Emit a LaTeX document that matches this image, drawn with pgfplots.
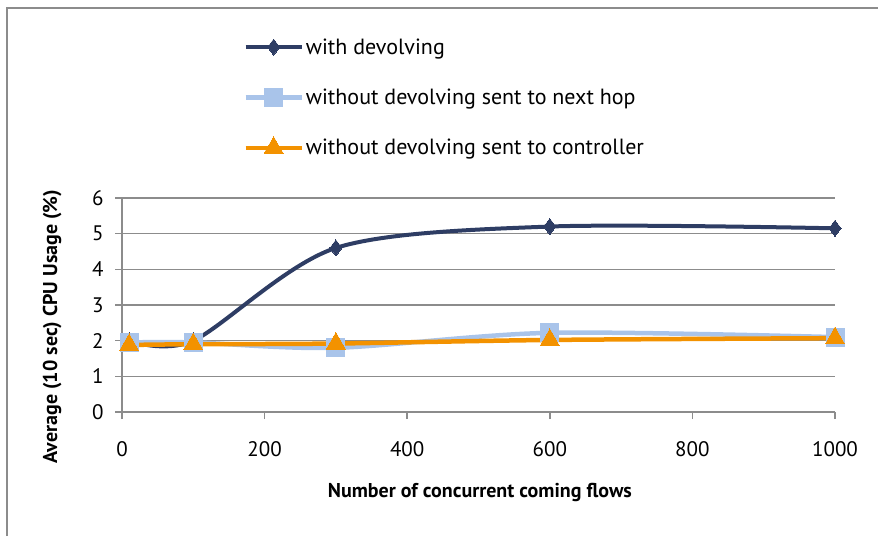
\documentclass[border=0pt]{standalone}
\usepackage{fontspec}
\setmainfont{PT Sans}
\usepackage{pgfplots}
\pgfplotsset{compat=1.18}
\definecolor{navy}{HTML}{2E3D64}
\definecolor{lblue}{HTML}{A9C4EA}
\definecolor{orng}{HTML}{F39200}
\definecolor{gridc}{HTML}{8C8C8C}
\begin{document}
\begin{tikzpicture}
\path[use as bounding box] (0,0) rectangle (878pt,536pt);
\draw[gridc, line width=1.5pt] (7pt,0) -- (7pt,528pt) -- (878pt,528pt);
\begin{axis}[
  at={(122pt,124pt)}, anchor=south west,
  scale only axis, width=713pt, height=214pt,
  xmin=0, xmax=1000, ymin=0, ymax=6,
  xtick={0,200,...,1000}, ytick={0,1,...,6},
  axis x line=bottom, axis y line=left,
  axis line style={gridc, line width=1.5pt, -},
  tick style={gridc, line width=1.5pt},
  tick align=outside, major tick length=7pt,
  ymajorgrids, grid style={gridc, line width=1.5pt},
  /pgf/number format/assume math mode=true,
  /pgf/number format/1000 sep={},
  ticklabel style={font=\fontsize{21}{24}\selectfont},
  xticklabel style={yshift=-19pt},
  yticklabel style={xshift=-8pt},
  xlabel={\textbf{Number of concurrent coming flows}},
  ylabel={\textbf{Average (10 sec) CPU Usage (\%)}},
  label style={font=\fontsize{20}{24}\selectfont},
  xlabel style={at={(axis description cs:0.502,-0.374)}, anchor=center},
  ylabel style={at={(axis description cs:-0.098,0.40)}, anchor=center},
  legend style={at={(axis description cs:0.1700,1.755)}, anchor=north west,
    draw=none, fill=none, font=\fontsize{22}{25}\selectfont,
    row sep=29pt, inner sep=0pt, cells={anchor=west}},
  legend cell align=left,
  legend image code/.code={\draw[mark repeat=2,mark phase=2] plot coordinates {(0pt,0pt)(28pt,0pt)(56pt,0pt)};},
  clip=false,
]
\addplot[navy, line width=4pt, smooth, tension=0.5, mark=diamond*, mark size=8pt, mark options={solid, line width=0pt}]
  coordinates {(10,2.0) (100,2.0) (300,4.6) (600,5.2) (1000,5.15)};
\addlegendentry{with devolving}
\addplot[lblue, line width=4.5pt, smooth, tension=0.5, mark=square*, mark size=9pt, mark options={solid, line width=0pt}]
  coordinates {(10,1.95) (100,1.95) (300,1.8) (600,2.22) (1000,2.1)};
\addlegendentry{without devolving sent to next hop}
\addplot[orng, line width=4.5pt, smooth, tension=0.5, mark=triangle*, mark size=11pt, mark options={solid, line width=0pt}]
  coordinates {(10,1.88) (100,1.9) (300,1.92) (600,2.02) (1000,2.07)};
\addlegendentry{without devolving sent to controller}
\end{axis}
\end{tikzpicture}
\end{document}
